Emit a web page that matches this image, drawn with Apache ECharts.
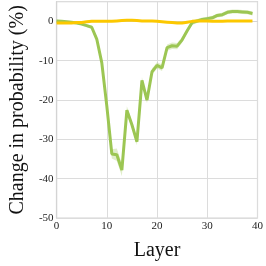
<!DOCTYPE html>
<html>
<head>
<meta charset="utf-8">
<script src="https://cdn.jsdelivr.net/npm/echarts@6/dist/echarts.min.js"></script>
<style>html,body{margin:0;padding:0;background:#fff}#c{width:266px;height:266px}</style>
</head>
<body>
<div id="c"></div>
<script>
var layers = [];
for (var i = 0; i < 40; i++) layers.push(i);
var greenValues = [0.1, 0.0, -0.1, -0.2, -0.4, -0.7, -1.1, -1.5, -4.5, -10.5,
  -21.5, -33.7, -33.9, -37.8, -22.6, -26.3, -30.6, -15.0, -20.0, -12.8,
  -11.2, -11.8, -6.7, -6.2, -6.3, -4.7, -2.4, -0.3, 0.1, 0.5,
  0.7, 0.9, 1.5, 1.7, 2.3, 2.5, 2.5, 2.4, 2.3, 2.0];
var greenErr = [0.3, 0.3, 0.3, 0.3, 0.3, 0.3, 0.4, 0.4, 0.6, 0.8,
  1.0, 1.2, 1.6, 1.6, 1.0, 0.9, 0.9, 0.8, 0.8, 0.8,
  0.8, 0.8, 0.8, 0.8, 0.8, 0.7, 0.6, 0.6, 0.5, 0.5,
  0.5, 0.5, 0.5, 0.5, 0.5, 0.5, 0.5, 0.5, 0.5, 0.5];
var yellowValues = [-0.4, -0.4, -0.4, -0.4, -0.3, -0.3, -0.1, 0.0, 0.0, 0.0,
  0.0, 0.0, 0.1, 0.2, 0.3, 0.3, 0.2, 0.1, 0.1, 0.1,
  0.0, -0.1, -0.2, -0.3, -0.4, -0.4, -0.2, 0.0, 0.1, 0.1,
  0.1, 0.0, 0.0, 0.0, 0.1, 0.1, 0.1, 0.1, 0.1, 0.1];
var xTicks = [0, 10, 20, 30, 40];
var yTicks = [-50, -40, -30, -20, -10, 0];

var chart = echarts.init(document.getElementById('c'), null, {renderer: 'canvas'});
var font = 'Liberation Serif';
chart.setOption({
  animation: false,
  backgroundColor: '#ffffff',
  grid: {left: 42.3, right: 5.5, top: 1.7, bottom: 36.3, show: true, borderColor: '#d4d4d4', borderWidth: 1.2},
  xAxis: {
    type: 'value', min: xTicks[0], max: xTicks[xTicks.length - 1], interval: 10,
    name: 'Layer', nameLocation: 'middle', nameGap: 23,
    nameTextStyle: {fontFamily: font, fontSize: 20, color: '#111'},
    axisLine: {show: true, lineStyle: {color: '#d4d4d4', width: 1.2}},
    axisTick: {show: false},
    axisLabel: {fontFamily: font, fontSize: 11, color: '#222', margin: 3},
    splitLine: {show: true, lineStyle: {color: '#dcdcdc', width: 1}}
  },
  yAxis: {
    type: 'value', min: yTicks[0], max: 5, interval: 10,
    name: 'Change in probability (%)', nameLocation: 'middle', nameGap: 27,
    nameTextStyle: {fontFamily: font, fontSize: 20, color: '#111'},
    axisLine: {show: true, lineStyle: {color: '#d4d4d4', width: 1.2}},
    axisTick: {show: false},
    axisLabel: {fontFamily: font, fontSize: 11, color: '#222', margin: 3, showMaxLabel: false},
    splitLine: {show: true, lineStyle: {color: '#dcdcdc', width: 1}}
  },
  series: [
    {type: 'custom', silent: true, data: [0],
      renderItem: function (params, api) {
        var pts = [];
        for (var i = 0; i < layers.length; i++) pts.push(api.coord([layers[i], greenValues[i] + greenErr[i]]));
        for (var j = layers.length - 1; j >= 0; j--) pts.push(api.coord([layers[j], greenValues[j] - greenErr[j]]));
        return {type: 'polygon', shape: {points: pts}, style: {fill: 'rgba(156,198,83,0.3)'}};
      }},
    {type: 'line', data: greenValues.map(function (v, i) { return [layers[i], v]; }), symbol: 'none',
      lineStyle: {color: '#9cc653', width: 3}},
    {type: 'line', data: yellowValues.map(function (v, i) { return [layers[i], v]; }), symbol: 'none',
      lineStyle: {color: '#fcc800', width: 3}}
  ]
});
</script>
</body>
</html>
